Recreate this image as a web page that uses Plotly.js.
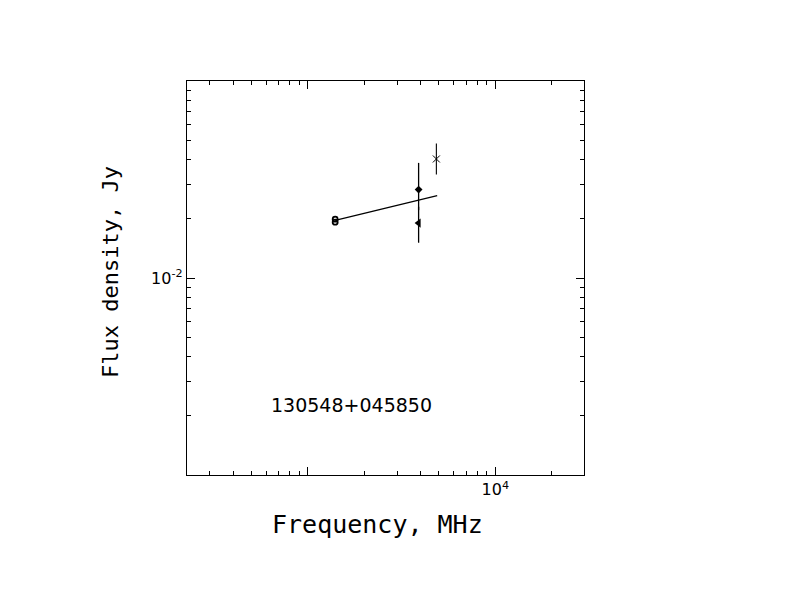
<!DOCTYPE html>
<html>
<head>
<meta charset="utf-8">
<script src="https://cdn.plot.ly/plotly-3.0.1.min.js"></script>
<style>html,body{margin:0;padding:0;background:#fff;}</style>
</head>
<body>
<div id="chart" style="width:792px;height:612px;"></div>
<script>
// Source name
const sourceName = "130548+045850";

// Measurements (frequency in MHz, flux density in Jy)
const circleFreq = [1400, 1400];
const circleFlux = [0.0199, 0.0192];

const diamondFreq = [3900];
const diamondFlux = [0.0281];
const diamondErrPlus = [0.0103];
const diamondErrMinus = [0.0060];

const triangleFreq = [3900];
const triangleFlux = [0.0190];
const triangleErrPlus = [0.0040];
const triangleErrMinus = [0.0039];

const crossFreq = [4850];
const crossFlux = [0.0402];
const crossErrPlus = [0.0079];
const crossErrMinus = [0.0067];

// Fitted spectrum
const fitFreq = [1400, 4900];
const fitFlux = [0.0196, 0.0262];

// Axis ticks
const xMajorTicks = [1000, 10000];
const xMajorLabels = ["", "10<sup>4</sup>"];
const xMinorTicks = [300, 400, 500, 600, 700, 800, 900, 2000, 3000, 4000, 5000, 6000, 7000, 8000, 9000, 20000];
const yMajorTicks = [0.01];
const yMajorLabels = ["10<sup>-2</sup>"];
const yMinorTicks = [0.002, 0.003, 0.004, 0.005, 0.006, 0.007, 0.008, 0.009, 0.02, 0.03, 0.04, 0.05, 0.06, 0.07, 0.08, 0.09];

const black = "#000";
const traces = [
  {x: fitFreq, y: fitFlux, mode: "lines", line: {color: black, width: 1.2}, hoverinfo: "skip"},
  {x: diamondFreq, y: diamondFlux, mode: "markers",
   marker: {symbol: "diamond", size: 6, color: black},
   error_y: {type: "data", symmetric: false, array: diamondErrPlus, arrayminus: diamondErrMinus, width: 0, thickness: 1.3, color: black}},
  {x: triangleFreq, y: triangleFlux, mode: "markers",
   marker: {symbol: "triangle-left", size: 8, color: black},
   error_y: {type: "data", symmetric: false, array: triangleErrPlus, arrayminus: triangleErrMinus, width: 0, thickness: 1.3, color: black}},
  {x: crossFreq, y: crossFlux, mode: "markers",
   marker: {symbol: "x-thin-open", size: 7, color: black, line: {color: black, width: 1}},
   error_y: {type: "data", symmetric: false, array: crossErrPlus, arrayminus: crossErrMinus, width: 0, thickness: 1.1, color: black}},
  {x: circleFreq, y: circleFlux, mode: "markers",
   marker: {symbol: "circle-open", size: 5, color: black, line: {color: black, width: 1.8}}}
];

const axisCommon = {
  type: "log", showgrid: false, zeroline: false,
  showline: true, linecolor: black, linewidth: 1.2, mirror: "ticks",
  ticks: "inside", ticklen: 8, tickwidth: 1, tickcolor: black,
  tickmode: "array",
  tickfont: {family: "DejaVu Sans", size: 16, color: black},
  minor: {tickmode: "array", ticks: "inside", ticklen: 4, tickwidth: 1, tickcolor: black, showgrid: false}
};

const layout = {
  width: 792, height: 612,
  margin: {l: 187, r: 208, t: 81, b: 137},
  paper_bgcolor: "#fff", plot_bgcolor: "#fff",
  showlegend: false,
  xaxis: Object.assign({}, axisCommon, {
    range: [2.356, 4.473],
    tickvals: xMajorTicks, ticktext: xMajorLabels,
    minor: Object.assign({}, axisCommon.minor, {tickvals: xMinorTicks})
  }),
  yaxis: Object.assign({}, axisCommon, {
    range: [-3, -1],
    tickvals: yMajorTicks, ticktext: yMajorLabels,
    minor: Object.assign({}, axisCommon.minor, {tickvals: yMinorTicks})
  }),
  annotations: [
    {text: sourceName, xref: "paper", yref: "paper", x: 0.4135, y: 0.1777,
     xanchor: "center", yanchor: "middle", showarrow: false,
     font: {family: "DejaVu Sans", size: 19, color: black}},
    {text: "Frequency, MHz", xref: "paper", yref: "paper", x: 0.479, y: -0.1244,
     xanchor: "center", yanchor: "middle", showarrow: false,
     font: {family: "DejaVu Sans Mono", size: 25, color: black}},
    {text: "Flux density, Jy", xref: "paper", yref: "paper", x: -0.193, y: 0.5165,
     xanchor: "center", yanchor: "middle", showarrow: false, textangle: -90,
     font: {family: "DejaVu Sans Mono", size: 22, color: black}}
  ]
};

Plotly.newPlot("chart", traces, layout, {staticPlot: true, displayModeBar: false});
</script>
</body>
</html>
